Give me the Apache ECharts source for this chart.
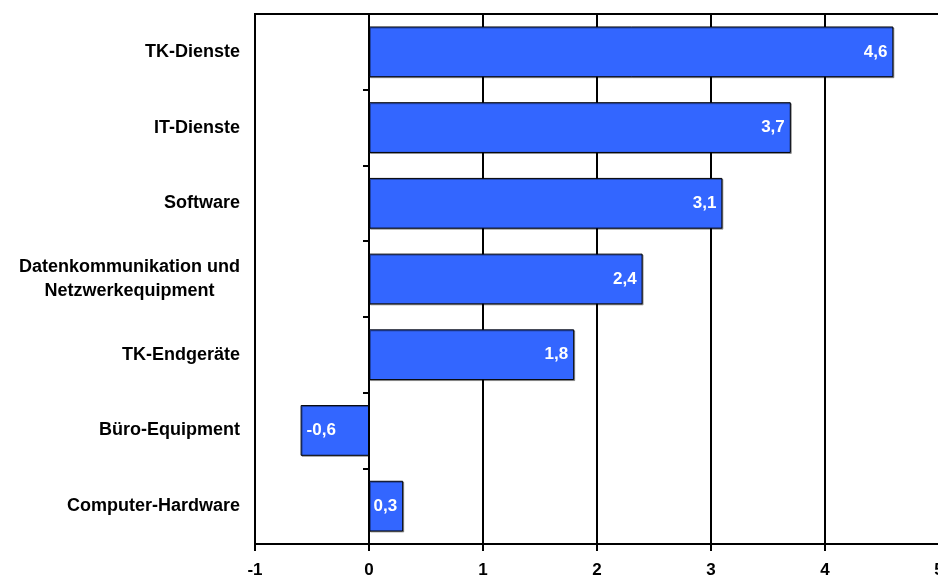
<!DOCTYPE html>
<html>
<head>
<meta charset="utf-8">
<script src="https://cdn.jsdelivr.net/npm/echarts@6/dist/echarts.min.js"></script>
<style>
  html, body { margin: 0; padding: 0; background: #fff; }
  #chart { width: 938px; height: 578px; }
</style>
</head>
<body>
<div id="chart"></div>
<script>
// Segments, bottom to top (category axis runs upward)
const categories = [
  'Computer-Hardware',
  'Büro-Equipment',
  'TK-Endgeräte',
  'Datenkommunikation und\nNetzwerkequipment',
  'Software',
  'IT-Dienste',
  'TK-Dienste'
];
const values = [0.3, -0.6, 1.8, 2.4, 3.1, 3.7, 4.6];
const xTicks = [-1, 0, 1, 2, 3, 4, 5];

const FONT = '"Liberation Sans", Arial, sans-serif';
const fmt = v => String(v).replace('.', ',');

const chart = echarts.init(document.getElementById('chart'), null, { renderer: 'canvas' });

chart.setOption({
  animation: false,
  grid: {
    left: 255, top: 14, width: 684, bottom: 34,
    outerBoundsMode: 'none',
    containLabel: false,
    show: true, borderColor: '#000', borderWidth: 2, backgroundColor: 'transparent'
  },
  xAxis: {
    type: 'value',
    min: xTicks[0], max: xTicks[xTicks.length - 1], interval: 1,
    axisLine: { show: true, lineStyle: { color: '#000', width: 2 } },
    axisTick: { show: true, length: 7, lineStyle: { color: '#000', width: 2 } },
    axisLabel: {
      color: '#000', fontFamily: FONT, fontWeight: 'bold', fontSize: 17, margin: 18,
      formatter: v => fmt(v)
    },
    splitLine: { show: true, lineStyle: { color: '#000', width: 2 } }
  },
  yAxis: [
    {
      // labels along the left border
      type: 'category',
      data: categories,
      axisLine: { show: true, onZero: false, lineStyle: { color: '#000', width: 2 } },
      axisTick: { show: false },
      axisLabel: {
        margin: 15,
        formatter: v => v.split('\n').map(s => '{c|' + s + '}').join('\n'),
        rich: {
          c: {
            color: '#000', fontFamily: FONT, fontWeight: 'bold', fontSize: 18,
            align: 'center', lineHeight: 24
          }
        }
      }
    },
    {
      // axis line with ticks at the zero value
      type: 'category',
      data: categories,
      position: 'left',
      axisLine: { show: true, onZero: true, lineStyle: { color: '#000', width: 2 } },
      axisTick: { show: true, length: 6, lineStyle: { color: '#000', width: 2 } },
      axisLabel: { show: false }
    }
  ],
  series: [{
    type: 'bar',
    yAxisIndex: 0,
    barCategoryGap: '33%',
    data: values.map(v => ({
      value: v,
      label: { position: v < 0 ? 'insideLeft' : 'insideRight' }
    })),
    itemStyle: {
      color: '#3366FF', borderColor: '#000', borderWidth: 1,
      shadowColor: 'rgba(0,0,0,0.35)', shadowOffsetX: 1, shadowOffsetY: 1
    },
    label: {
      show: true, color: '#fff', fontFamily: FONT, fontWeight: 'bold', fontSize: 17,
      distance: 6,
      formatter: p => fmt(p.value)
    }
  }]
});
</script>
</body>
</html>
